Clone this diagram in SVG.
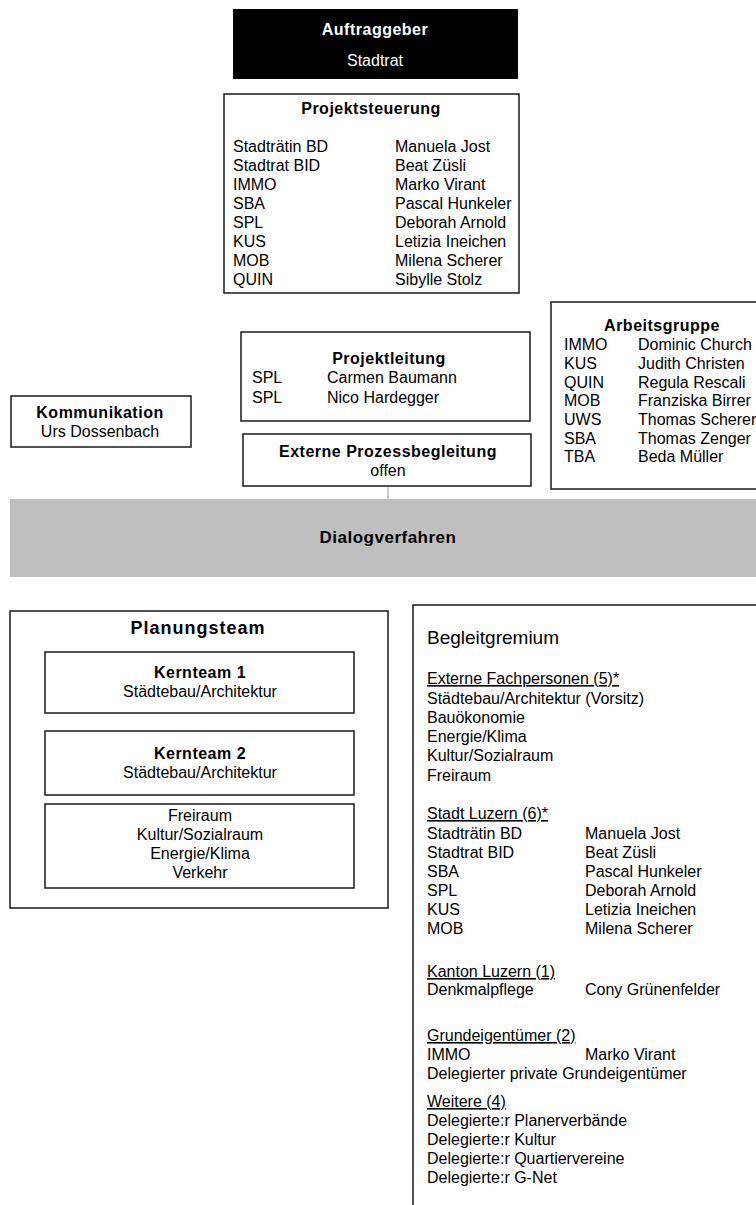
<svg xmlns="http://www.w3.org/2000/svg" width="756" height="1205" viewBox="0 0 756 1205">
<style>
text{font-family:"Liberation Sans",Arial,sans-serif;font-size:16px;fill:#000}
.b{font-weight:bold;letter-spacing:0.5px}
.c{text-anchor:middle}
.w{fill:#fff}
.u{text-decoration:underline}
.box{fill:#fff;stroke:#1a1a1a;stroke-width:1.5}
</style>
<rect width="756" height="1205" fill="#fff"/>
<g id="connectors">
<line x1="388" y1="487" x2="388" y2="499" stroke="#999" stroke-width="1"/>
</g>
<g id="auftraggeber">
<rect x="233" y="9" width="285" height="70" fill="#000"/>
<text class="b c w" x="375" y="35">Auftraggeber</text>
<text class="c w" x="375" y="66">Stadtrat</text>
</g>
<g id="projektsteuerung">
<rect class="box" x="224" y="94" width="295" height="199"/>
<text class="b c" x="371" y="114">Projektsteuerung</text>
<text x="233" y="152">Stadträtin BD</text><text x="395" y="152">Manuela Jost</text>
<text x="233" y="171">Stadtrat BID</text><text x="395" y="171">Beat Züsli</text>
<text x="233" y="190">IMMO</text><text x="395" y="190">Marko Virant</text>
<text x="233" y="209">SBA</text><text x="395" y="209">Pascal Hunkeler</text>
<text x="233" y="228">SPL</text><text x="395" y="228">Deborah Arnold</text>
<text x="233" y="247">KUS</text><text x="395" y="247">Letizia Ineichen</text>
<text x="233" y="266">MOB</text><text x="395" y="266">Milena Scherer</text>
<text x="233" y="285">QUIN</text><text x="395" y="285">Sibylle Stolz</text>
</g>
<g id="arbeitsgruppe">
<rect class="box" x="551" y="302" width="210" height="187"/>
<text class="b c" x="662" y="331">Arbeitsgruppe</text>
<text x="564" y="350">IMMO</text><text x="638" y="350">Dominic Church</text>
<text x="564" y="369">KUS</text><text x="638" y="369">Judith Christen</text>
<text x="564" y="388">QUIN</text><text x="638" y="388">Regula Rescali</text>
<text x="564" y="406">MOB</text><text x="638" y="406">Franziska Birrer</text>
<text x="564" y="425">UWS</text><text x="638" y="425">Thomas Scherer</text>
<text x="564" y="444">SBA</text><text x="638" y="444">Thomas Zenger</text>
<text x="564" y="462">TBA</text><text x="638" y="462">Beda Müller</text>
</g>
<g id="projektleitung">
<rect class="box" x="241" y="332" width="289" height="89"/>
<text class="b c" x="389" y="364">Projektleitung</text>
<text x="252" y="383">SPL</text><text x="327" y="383">Carmen Baumann</text>
<text x="252" y="403">SPL</text><text x="327" y="403">Nico Hardegger</text>
</g>
<g id="kommunikation">
<rect class="box" x="11" y="396" width="180" height="51"/>
<text class="b c" x="100" y="418">Kommunikation</text>
<text class="c" x="100" y="437">Urs Dossenbach</text>
</g>
<g id="externe">
<rect class="box" x="243" y="434" width="288" height="52"/>
<text class="b c" x="388" y="457">Externe Prozessbegleitung</text>
<text class="c" x="388" y="476">offen</text>
</g>
<g id="dialogverfahren">
<rect x="10" y="499" width="746" height="78" fill="#bfbfbf"/>
<text class="b c" x="388" y="543" style="font-size:17px">Dialogverfahren</text>
</g>
<g id="planungsteam">
<rect class="box" x="10" y="611" width="378" height="297"/>
<text class="b c" x="198" y="634" style="font-size:18px;letter-spacing:1px">Planungsteam</text>
<rect class="box" x="45" y="652" width="309" height="61"/>
<text class="b c" x="200" y="678">Kernteam 1</text>
<text class="c" x="200" y="697">Städtebau/Architektur</text>
<rect class="box" x="45" y="731" width="309" height="64"/>
<text class="b c" x="200" y="759">Kernteam 2</text>
<text class="c" x="200" y="778">Städtebau/Architektur</text>
<rect class="box" x="45" y="804" width="309" height="84"/>
<text class="c" x="200" y="821">Freiraum</text>
<text class="c" x="200" y="840">Kultur/Sozialraum</text>
<text class="c" x="200" y="859">Energie/Klima</text>
<text class="c" x="200" y="878">Verkehr</text>
</g>
<g id="begleitgremium">
<path d="M413 1210 V605 H760" fill="none" stroke="#1a1a1a" stroke-width="1.5"/>
<text x="427" y="644" style="font-size:19px">Begleitgremium</text>
<text class="u" x="427" y="684">Externe Fachpersonen (5)*</text>
<text x="427" y="704">Städtebau/Architektur (Vorsitz)</text>
<text x="427" y="723">Bauökonomie</text>
<text x="427" y="742">Energie/Klima</text>
<text x="427" y="761">Kultur/Sozialraum</text>
<text x="427" y="781">Freiraum</text>
<text class="u" x="427" y="819">Stadt Luzern (6)*</text>
<text x="427" y="839">Stadträtin BD</text><text x="585" y="839">Manuela Jost</text>
<text x="427" y="858">Stadtrat BID</text><text x="585" y="858">Beat Züsli</text>
<text x="427" y="877">SBA</text><text x="585" y="877">Pascal Hunkeler</text>
<text x="427" y="896">SPL</text><text x="585" y="896">Deborah Arnold</text>
<text x="427" y="915">KUS</text><text x="585" y="915">Letizia Ineichen</text>
<text x="427" y="934">MOB</text><text x="585" y="934">Milena Scherer</text>
<text class="u" x="427" y="977">Kanton Luzern (1)</text>
<text x="427" y="995">Denkmalpflege</text><text x="585" y="995">Cony Grünenfelder</text>
<text class="u" x="427" y="1041">Grundeigentümer (2)</text>
<text x="427" y="1060">IMMO</text><text x="585" y="1060">Marko Virant</text>
<text x="427" y="1079">Delegierter private Grundeigentümer</text>
<text class="u" x="427" y="1107">Weitere (4)</text>
<text x="427" y="1126">Delegierte:r Planerverbände</text>
<text x="427" y="1145">Delegierte:r Kultur</text>
<text x="427" y="1164">Delegierte:r Quartiervereine</text>
<text x="427" y="1183">Delegierte:r G-Net</text>
</g>
</svg>
